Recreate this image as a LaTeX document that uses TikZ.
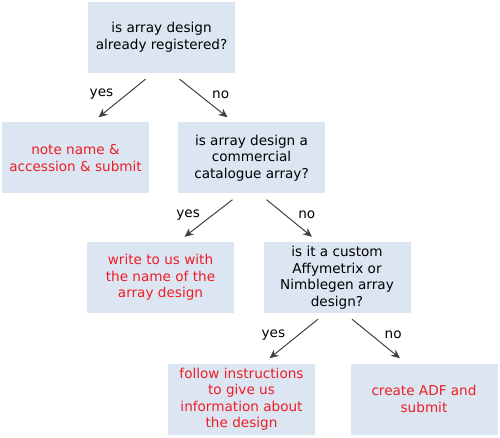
\documentclass[tikz,border=0pt]{standalone}
\usepackage{fontspec}
\setmainfont{DejaVu Sans}
\usetikzlibrary{arrows.meta}
\definecolor{boxblue}{HTML}{DCE6F2}
\definecolor{ansred}{HTML}{EE1C25}
\begin{document}
\begin{tikzpicture}
  [x=1pt,y=-1pt,font=\fontsize{13.6}{16.5}\selectfont,
   box/.style={fill=boxblue,minimum width=147pt,minimum height=71pt,align=center,inner sep=0pt},
   answer/.style={box,text=ansred},
   arrow/.style={draw=black!75,line width=1pt,-{Stealth[length=9pt,width=8pt]}}]
  \useasboundingbox (0,0) rectangle (500,438);
  \node[box] (n1) at (161.5,37.5) {is array design\\already registered?};
  \node[answer] (n2) at (75.5,158) {note name \&\\accession \& submit};
  \node[box] (n3) at (251.5,158) {is array design a\\commercial\\catalogue array?};
  \node[answer] (n4) at (160.5,277.5) {write to us with\\the name of the\\array design};
  \node[box] (n5) at (337,277.5) {is it a custom\\Affymetrix or\\Nimblegen array\\design?};
  \node[answer] (n6) at (241.5,399) {follow instructions\\to give us\\information about\\the design};
  \node[answer] (n7) at (424,399) {create ADF and\\submit};
  \foreach \from/\to/\sx/\ex/\side/\lx/\lbl in
    {n1/n2/-16/23/east/-12/yes, n1/n3/18/-24/west/12/no,
     n3/n4/-19/24/east/-12/yes, n3/n5/15/-25/west/12/no,
     n5/n6/-19/28/east/-12/yes, n5/n7/15/-24/west/12/no}
    \draw[arrow] ([xshift=\sx pt,yshift=-6pt]\from.south) --
      node[pos=.35,anchor=\side,xshift=\lx pt,yshift=-2pt] {\lbl}
      ([xshift=\ex pt,yshift=5pt]\to.north);
\end{tikzpicture}
\end{document}
